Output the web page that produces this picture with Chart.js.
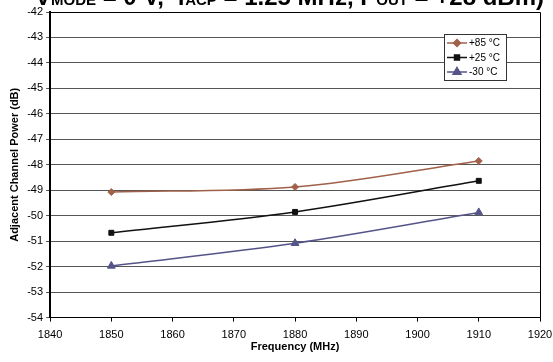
<!DOCTYPE html>
<html>
<head>
<meta charset="utf-8">
<script src="https://cdn.jsdelivr.net/npm/chart.js@4/dist/chart.umd.min.js"></script>
<style>
  html, body { margin: 0; padding: 0; background: #fff; overflow: hidden; }
  #wrap { position: relative; width: 553px; height: 362px; }
  #title {
    position: absolute; left: 35px; top: -17px; white-space: nowrap;
    font: bold 24px "Liberation Sans", Arial, sans-serif; color: #000;
  }
  #title sub { font-size: 15px; vertical-align: baseline; }
</style>
</head>
<body>
<div id="wrap">
  <canvas id="chart" width="553" height="362"></canvas>
  <div id="title">V<sub>MODE</sub> = 0 V, &nbsp;f<sub>ACP</sub> = 1.25 MHz, P<sub>OUT</sub> = +28 dBm)</div>
</div>
<script>
(function(Chart){

    // frequencies (MHz)
    var freqs = [1850, 1880, 1910];

    // adjacent channel power (dB)
    var acpHot = [-49.07, -48.87, -47.85];
    var acpRoom = [-50.67, -49.85, -48.63];
    var acpCold = [-51.97, -51.08, -49.87];

    var seriesLabels = ['+85 °C', '+25 °C', '-30 °C'];

    var xTicks = { min: 1840, max: 1920, step: 10 };
    var yTicks = { min: -54, max: -42, step: 1 };

    function toPoints(vals) {
        return freqs.map(function(f, i) { return { x: f, y: vals[i] }; });
    }

    var styles = [
        { color: '#A0604A', point: 'rectRot', radius: 3.5 },
        { color: '#111111', point: 'rect', radius: 3.5 },
        { color: '#545488', point: 'triangle', radius: 4.5 }
    ];

    var datasets = [acpHot, acpRoom, acpCold].map(function(vals, i) {
        return {
            label: seriesLabels[i],
            data: toPoints(vals),
            borderColor: styles[i].color,
            backgroundColor: styles[i].color,
            borderWidth: 1.5,
            pointStyle: styles[i].point,
            pointRadius: styles[i].radius,
            pointBorderWidth: 1,
            tension: 0.4,
            cubicInterpolationMode: 'monotone'
        };
    });

    // plot frame + boxed legend inside the plot
    var framePlugin = {
        id: 'frame',
        afterDraw: function(chart) {
            var ctx = chart.ctx, a = chart.chartArea;
            ctx.save();
            ctx.strokeStyle = '#000';
            ctx.lineWidth = 1;
            ctx.beginPath();
            ctx.moveTo(a.left, a.top + 0.5);
            ctx.lineTo(a.right + 0.5, a.top + 0.5);
            ctx.lineTo(a.right + 0.5, a.bottom);
            ctx.stroke();

            var bx = 444.5, by = 34.5, bw = 62, bh = 46;
            ctx.fillStyle = '#fff';
            ctx.fillRect(bx, by, bw, bh);
            ctx.strokeStyle = '#333';
            ctx.strokeRect(bx, by, bw, bh);

            ctx.font = '10px "Liberation Sans", Arial, sans-serif';
            ctx.textBaseline = 'middle';
            chart.data.datasets.forEach(function(ds, i) {
                var y = 43 + i * 14.5;
                ctx.strokeStyle = ds.borderColor;
                ctx.lineWidth = 1.5;
                ctx.beginPath();
                ctx.moveTo(447, y);
                ctx.lineTo(467, y);
                ctx.stroke();
                ctx.fillStyle = ds.backgroundColor;
                Chart.helpers.drawPoint(ctx, {
                    pointStyle: ds.pointStyle,
                    radius: ds.pointRadius,
                    borderWidth: 1
                }, 457, y);
                ctx.fillStyle = '#000';
                ctx.fillText(ds.label, 469, y + 0.5);
            });
            ctx.restore();
        }
    };

    var ctxA = document.getElementById('chart').getContext('2d');

    var chart = new Chart(ctxA, {
        type: 'line',
        data: { datasets: datasets },
        plugins: [framePlugin],
        options: {
            responsive: false,
            animation: false,
            layout: { padding: { top: 12, right: 2, left: 8, bottom: 8 } },
            plugins: {
                legend: { display: false },
                tooltip: { enabled: false }
            },
            scales: {
                x: {
                    type: 'linear',
                    min: xTicks.min,
                    max: xTicks.max,
                    afterFit: function(scale) {
                        scale.height -= 8;
                        scale.paddingRight = 13;
                    },
                    ticks: {
                        stepSize: xTicks.step,
                        color: '#000',
                        padding: 7,
                        maxRotation: 0,
                        minRotation: 0,
                        callback: function(v) { return String(v); },
                        font: { family: '"Liberation Sans", Arial, sans-serif', size: 11 }
                    },
                    grid: { drawOnChartArea: false, drawTicks: true, tickLength: 4, color: '#000' },
                    border: { color: '#000', width: 1 },
                    title: {
                        display: true,
                        text: 'Frequency (MHz)',
                        color: '#000',
                        padding: { top: 0, bottom: 0 },
                        font: { family: '"Liberation Sans", Arial, sans-serif', size: 11, weight: 'bold' }
                    }
                },
                y: {
                    min: yTicks.min,
                    max: yTicks.max,
                    ticks: {
                        stepSize: yTicks.step,
                        color: '#000',
                        padding: 3,
                        font: { family: '"Liberation Sans", Arial, sans-serif', size: 11 }
                    },
                    grid: { color: '#555', lineWidth: 1, tickLength: 4, drawTicks: true },
                    border: { color: '#000', width: 2 },
                    title: {
                        display: true,
                        text: 'Adjacent Channel Power (dB)',
                        color: '#000',
                        padding: { top: 0, bottom: 3 },
                        font: { family: '"Liberation Sans", Arial, sans-serif', size: 11, weight: 'bold' }
                    }
                }
            }
        }
    });

})(Chart);
</script>
</body>
</html>
